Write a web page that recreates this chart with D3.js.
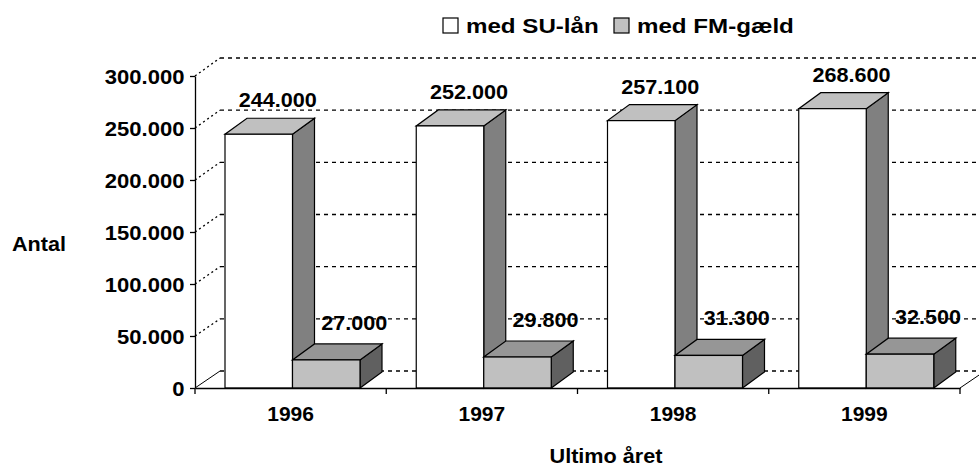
<!DOCTYPE html>
<html>
<head>
<meta charset="utf-8">
<script src="https://cdn.jsdelivr.net/npm/d3@7"></script>
<style>
body { margin: 0; background: #fff; }
svg text { font-family: "Liberation Sans", Arial, sans-serif; font-weight: bold; font-size: 21px; fill: #000; }
</style>
</head>
<body>
<svg id="chart" width="979" height="469"></svg>
<script>
// data
var years = ["1996", "1997", "1998", "1999"];
var suLaan = [244000, 252000, 257100, 268600];
var fmGaeld = [27000, 29800, 31300, 32500];
var yTicks = [0, 50000, 100000, 150000, 200000, 250000, 300000];
var seriesNames = ["med SU-lån", "med FM-gæld"];

var svg = d3.select("#chart");
var sx = 1.03; // text in the picture is a bit wider than tall

var dk = d3.formatLocale({decimal: ",", thousands: ".", grouping: [3], currency: ["", " kr."]});
var fmt = dk.format(",.0f");

var x = d3.scaleBand().domain(years).range([195, 960]);
var yF = d3.scaleLinear().domain([0, 300000]).range([388, 76]);
var yB = d3.scaleLinear().domain([0, 300000]).range([371, 58]);
var wallDx = 25, barDx = 22, barDy = -16, barW = 67.5, barOff = 30;

// floor
svg.append("polygon")
    .attr("points", [[195, yF(0)], [960, yF(0)], [960 + wallDx, yB(0)], [195 + wallDx, yB(0)]].join(" "))
    .style("fill", "#fff");

// back wall gridlines
svg.append("g").selectAll("line").data(yTicks).enter().append("line")
    .attr("x1", 195 + wallDx).attr("x2", 960 + wallDx)
    .attr("y1", function(d){ return yB(d); }).attr("y2", function(d){ return yB(d); })
    .style("stroke", "#000").style("stroke-width", 1.3).style("stroke-dasharray", "4,4");

// side wall gridlines
svg.append("g").selectAll("line").data(yTicks.slice(1)).enter().append("line")
    .attr("x1", 195).attr("x2", 195 + wallDx)
    .attr("y1", function(d){ return yF(d); }).attr("y2", function(d){ return yB(d); })
    .style("stroke", "#000").style("stroke-width", 1.3).style("stroke-dasharray", "2,3");

// floor edges
svg.append("line").attr("x1", 195).attr("y1", yF(0)).attr("x2", 195 + wallDx).attr("y2", yB(0))
    .style("stroke", "#000");
svg.append("line").attr("x1", 960).attr("y1", yF(0)).attr("x2", 960 + wallDx).attr("y2", yB(0))
    .style("stroke", "#000");

var drawBar = function(g, x0, v, front, top, side){
    var yt = yF(v), yb = yF(0);
    g.append("polygon")
        .attr("points", [[x0 + barW, yt], [x0 + barW + barDx, yt + barDy], [x0 + barW + barDx, yb + barDy], [x0 + barW, yb]].join(" "))
        .style("fill", side).style("stroke", "#000").style("stroke-width", 1.2);
    g.append("polygon")
        .attr("points", [[x0, yt], [x0 + barW, yt], [x0 + barW + barDx, yt + barDy], [x0 + barDx, yt + barDy]].join(" "))
        .style("fill", top).style("stroke", "#000").style("stroke-width", 1.2);
    g.append("rect")
        .attr("x", x0).attr("y", yt).attr("width", barW).attr("height", yb - yt)
        .style("fill", front).style("stroke", "#000").style("stroke-width", 1.2);
};

var bars = svg.append("g");
years.forEach(function(yr, i){
    var x0 = x(yr) + barOff;
    drawBar(bars, x0, suLaan[i], "#fff", "#c0c0c0", "#808080");
    drawBar(bars, x0 + barW, fmGaeld[i], "#c0c0c0", "#969696", "#606060");
});

var label = function(txt, px, py, anchor, scale){
    svg.append("text")
        .attr("transform", "translate(" + px + "," + py + ") scale(" + (scale || sx) + ",1)")
        .attr("text-anchor", anchor || "middle")
        .text(txt);
};

// value labels
years.forEach(function(yr, i){
    var x0 = x(yr) + barOff;
    label(fmt(suLaan[i]), x0 + barW / 2 + 19, yF(suLaan[i]) + barDy - 11);
    label(fmt(fmGaeld[i]), x0 + barW * 1.5 + 28, yF(fmGaeld[i]) + barDy - 14);
});

// y axis
var yAxis = svg.append("g").attr("transform", "translate(195,0)")
    .call(d3.axisLeft(yF).tickValues(yTicks).tickSizeInner(5).tickSizeOuter(0).tickPadding(5).tickFormat(fmt));
yAxis.select(".domain").style("stroke-width", 1.3);
yAxis.selectAll("line").style("stroke-width", 1.3);
yAxis.selectAll("text").attr("font-size", null).attr("font-family", null)
    .attr("dy", "0.35em").attr("transform", "scale(1.05,1)");

// x axis
var xAxis = svg.append("g").attr("transform", "translate(0," + yF(0) + ")")
    .call(d3.axisBottom(x).tickSize(0).tickSizeOuter(0));
xAxis.select(".domain").style("stroke-width", 1.3);
xAxis.selectAll("text").attr("font-size", null).attr("font-family", null)
    .attr("y", 33).attr("dy", null);
var bounds = [x(years[0])].concat(years.map(function(d){ return x(d) + x.bandwidth(); }));
xAxis.selectAll(".btick").data(bounds).enter().append("line")
    .attr("class", "btick")
    .attr("x1", function(d){ return d; }).attr("x2", function(d){ return d; })
    .attr("y1", 0).attr("y2", 6)
    .style("stroke", "#000").style("stroke-width", 1.3);

// axis titles
label("Antal", 39, 251);
label("Ultimo året", 606, 463);

// legend
var legendFill = ["#fff", "#c0c0c0"];
var legendX = [443, 614];
seriesNames.forEach(function(name, i){
    svg.append("rect")
        .attr("x", legendX[i]).attr("y", 18).attr("width", 15).attr("height", 15)
        .style("fill", legendFill[i]).style("stroke", "#000").style("stroke-width", 1.2);
    label(name, legendX[i] + 23, 33, "start", 1.15);
});
</script>
</body>
</html>
